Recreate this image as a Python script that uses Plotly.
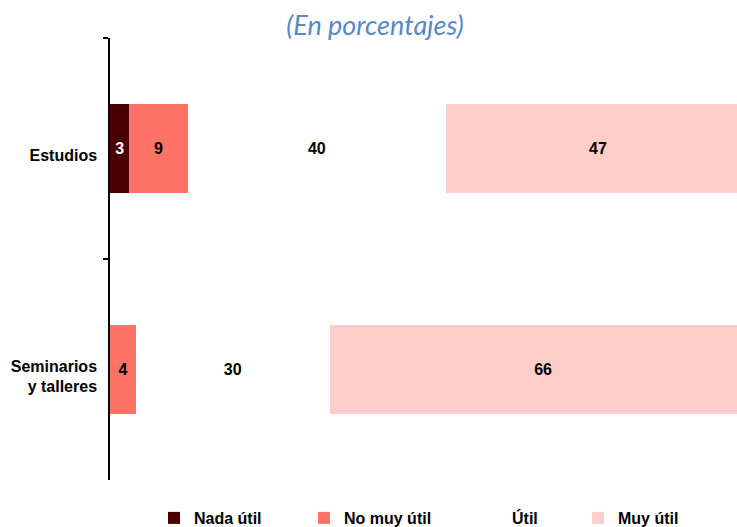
import plotly.graph_objects as go

categories = ["Estudios", "Seminarios<br>y talleres"]
series_names = ["Nada útil", "No muy útil", "Útil", "Muy útil"]
nada_util = [3, 0]
no_muy_util = [9, 4]
util = [40, 30]
muy_util = [47, 66]
colors = ["#4B0000", "#FF7266", "#FFFFFF", "#FFCECB"]
text_colors = ["#FFFFFF", "#000000", "#000000", "#000000"]
legend_x_px = [154, 304, 472, 578]

series_values = [nada_util, no_muy_util, util, muy_util]
FONT = "Liberation Sans, Arial"

fig = go.Figure()
for i, (name, vals) in enumerate(zip(series_names, series_values)):
    leg = "legend" if i == 0 else f"legend{i+1}"
    fig.add_trace(go.Bar(
        y=categories, x=vals, name=name, orientation="h",
        marker=dict(color=colors[i], line=dict(width=0)),
        text=[str(v) if v > 0 else "" for v in vals],
        textposition="inside", insidetextanchor="middle",
        textangle=0,
        textfont=dict(family=FONT, size=16, color=text_colors[i], weight="bold"),
        legend=leg, showlegend=True,
    ))

layout_legends = {}
for i, px in enumerate(legend_x_px):
    key = "legend" if i == 0 else f"legend{i+1}"
    layout_legends[key] = dict(
        xref="container", yref="container",
        x=px / 737, y=1 - 518 / 527, xanchor="left", yanchor="middle",
        orientation="h", bgcolor="rgba(0,0,0,0)",
        font=dict(family=FONT, size=16, color="#000000", weight="bold"),
    )

fig.update_layout(
    barmode="stack", bargap=0.6,
    width=737, height=527,
    margin=dict(l=110, r=0, t=38, b=47, autoexpand=False),
    paper_bgcolor="white", plot_bgcolor="white",
    title=dict(text="<i>(En porcentajes)</i>", xref="container", yref="container",
               x=375 / 737, y=1 - 26 / 527, xanchor="center", yanchor="middle",
               font=dict(family="Lato", size=27, color="#5A88C6")),
    xaxis=dict(range=[0, 97], visible=False, fixedrange=True),
    yaxis=dict(autorange="reversed", showline=True, linecolor="#000000", linewidth=1.5,
               ticks="outside", ticklen=5, tickcolor="#000000", tickwidth=1.5,
               tickson="boundaries", ticklabelstandoff=8, ticklabelshift=-7, showgrid=False,
               tickfont=dict(family=FONT, size=16, color="#000000", weight="bold")),
    **layout_legends,
)

fig.write_html("out.html", config={"displayModeBar": False},
               post_script="document.body.style.margin='0';document.body.style.overflow='hidden';")
